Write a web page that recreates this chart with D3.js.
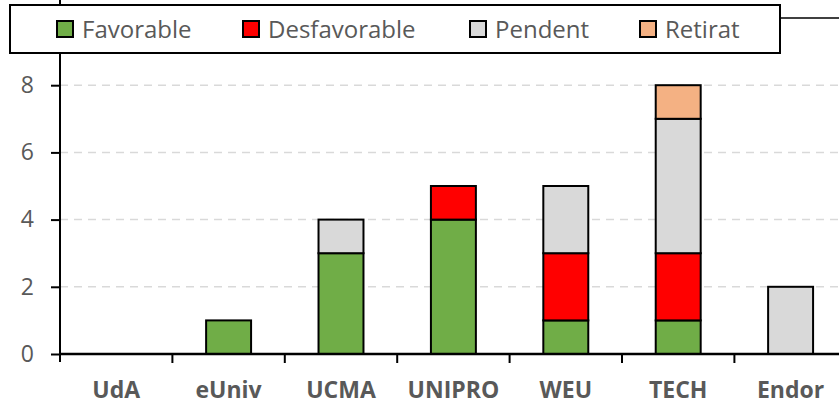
<!DOCTYPE html>
<html>
<head>
<meta charset="utf-8">
<script src="https://cdn.jsdelivr.net/npm/d3@7"></script>
<style>
  body { margin: 0; background: #fff; }
  text { font-family: "Open Sans", sans-serif; }
</style>
</head>
<body>
<svg id="chart" width="839" height="404"></svg>
<script>
// data
var categories = ["UdA", "eUniv", "UCMA", "UNIPRO", "WEU", "TECH", "Endor"];
var favorable    = [0, 1, 3, 4, 1, 1, 0];
var desfavorable = [0, 0, 0, 1, 2, 2, 0];
var pendent      = [0, 0, 1, 0, 2, 4, 2];
var retirat      = [0, 0, 0, 0, 0, 1, 0];
var seriesNames  = ["Favorable", "Desfavorable", "Pendent", "Retirat"];
var yTicks = [0, 2, 4, 6, 8, 10];

var colors = ["#70AD47", "#FF0000", "#D9D9D9", "#F4B183"];
var seriesVals = [favorable, desfavorable, pendent, retirat];

var rows = categories.map(function (c, i) {
  var r = { cat: c };
  seriesNames.forEach(function (s, k) { r[s] = seriesVals[k][i]; });
  return r;
});

var svg = d3.select("#chart");
var plotLeft = 60, plotBottom = 354, plotTop = 18;

// plot is cropped on the right in the reference, so the band range runs past 839
var x = d3.scaleBand().domain(categories).range([plotLeft, plotLeft + 7 * 112.4]).paddingInner(0.6).paddingOuter(0.3);
var y = d3.scaleLinear().domain([0, 10]).range([plotBottom, plotTop]);

// gridlines
svg.append("g").selectAll("line")
  .data(yTicks.filter(function (d) { return d > 0 && d < 10; }))
  .enter().append("line")
    .attr("x1", plotLeft).attr("x2", 839)
    .attr("y1", function (d) { return y(d); })
    .attr("y2", function (d) { return y(d); })
    .attr("stroke", "#d9d9d9").attr("stroke-width", 1.5)
    .attr("stroke-dasharray", "8,6");

// top border line
svg.append("line")
  .attr("x1", plotLeft).attr("x2", 839)
  .attr("y1", y(10)).attr("y2", y(10))
  .attr("stroke", "#000").attr("stroke-width", 1.5);

// stacked bars
var stack = d3.stack().keys(seriesNames)(rows);
svg.append("g").selectAll("g")
  .data(stack)
  .enter().append("g")
    .attr("fill", function (d, i) { return colors[i]; })
  .selectAll("rect")
  .data(function (d) { return d.filter(function (p) { return p[1] - p[0] > 0; }); })
  .enter().append("rect")
    .attr("x", function (d) { return x(d.data.cat); })
    .attr("width", x.bandwidth())
    .attr("y", function (d) { return y(d[1]); })
    .attr("height", function (d) { return y(d[0]) - y(d[1]); })
    .attr("stroke", "#000").attr("stroke-width", 2);

// y axis
var yAxis = svg.append("g")
  .attr("transform", "translate(" + plotLeft + ",0)")
  .call(d3.axisLeft(y).tickValues(yTicks).tickSize(9).tickPadding(17));
yAxis.select(".domain").attr("stroke", "#000").attr("stroke-width", 2)
  .attr("d", "M0," + (plotBottom + 8) + "V0");
yAxis.selectAll(".tick line").attr("stroke", "#000").attr("stroke-width", 2);
yAxis.selectAll("text").attr("fill", "#595959").style("font-size", "23px");

// x axis
var bounds = categories.map(function (c) { return x(c) - x.step() * x.paddingInner() / 2; });
svg.append("line")
  .attr("x1", plotLeft).attr("x2", 839)
  .attr("y1", plotBottom).attr("y2", plotBottom)
  .attr("stroke", "#000").attr("stroke-width", 2.5);
svg.append("g").selectAll("line")
  .data(bounds.slice(1))
  .enter().append("line")
    .attr("x1", function (d) { return d; }).attr("x2", function (d) { return d; })
    .attr("y1", plotBottom).attr("y2", plotBottom + 9)
    .attr("stroke", "#000").attr("stroke-width", 2);
svg.append("g").selectAll("text")
  .data(categories)
  .enter().append("text")
    .attr("x", function (d) { return x(d) + x.bandwidth() / 2; })
    .attr("y", 398)
    .attr("text-anchor", "middle")
    .attr("fill", "#595959")
    .style("font-size", "23px").style("font-weight", "bold")
    .text(function (d) { return d; });

// legend
var lg = svg.append("g");
lg.append("rect")
  .attr("x", 10).attr("y", 5).attr("width", 770).attr("height", 48)
  .attr("fill", "#fff").attr("stroke", "#000").attr("stroke-width", 2);
var legendX = [57, 243, 470, 640];
var item = lg.selectAll("g.item")
  .data(seriesNames)
  .enter().append("g").attr("class", "item")
    .attr("transform", function (d, i) { return "translate(" + legendX[i] + ",0)"; });
item.append("rect")
  .attr("x", 0).attr("y", 21).attr("width", 16).attr("height", 16)
  .attr("fill", function (d, i) { return colors[i]; })
  .attr("stroke", "#000").attr("stroke-width", 2);
item.append("text")
  .attr("x", 25).attr("y", 38)
  .attr("fill", "#595959")
  .style("font-size", "24px")
  .text(function (d) { return d; });
</script>
</body>
</html>
